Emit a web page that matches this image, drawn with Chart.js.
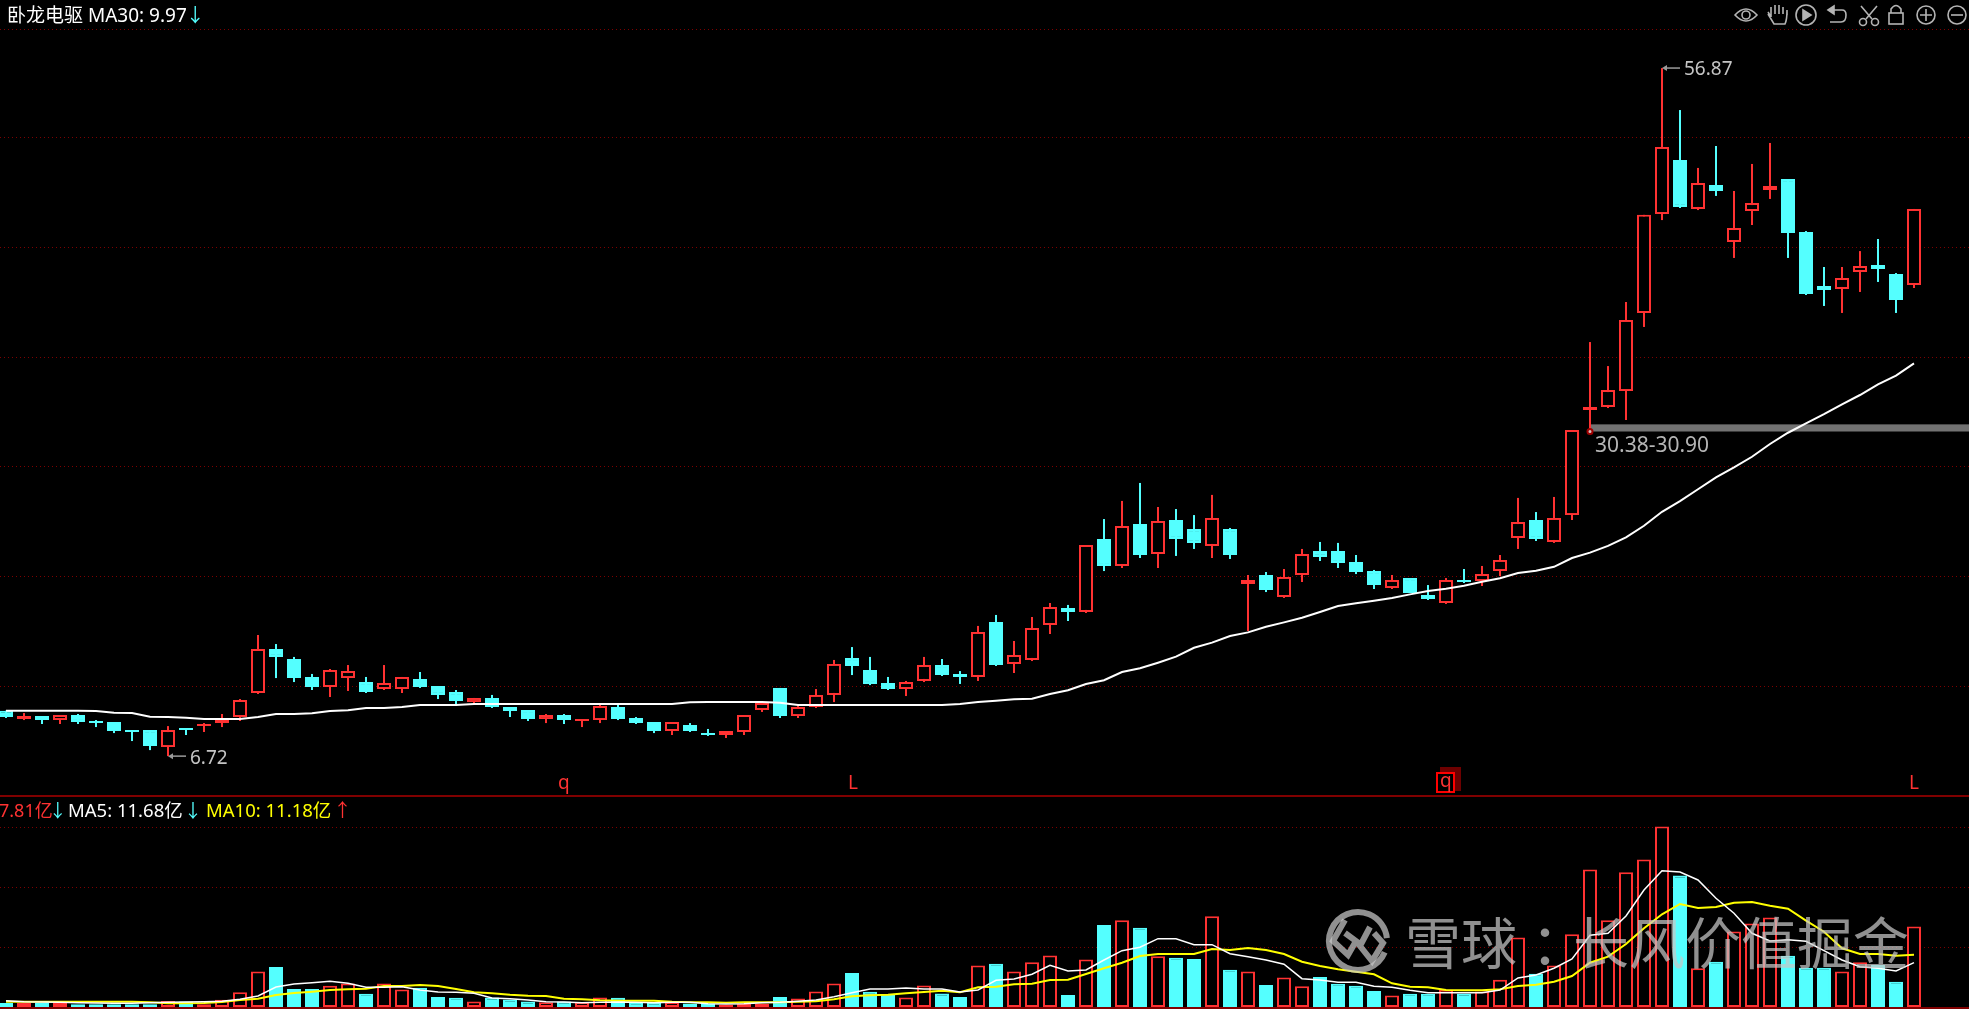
<!DOCTYPE html>
<html>
<head>
<meta charset="utf-8">
<title>卧龙电驱</title>
<script src="https://cdn.jsdelivr.net/npm/chart.js@4/dist/chart.umd.js"></script>
<style>
  html, body { margin: 0; padding: 0; background: #000; overflow: hidden; }
  #wrap { position: relative; width: 1969px; height: 1009px; }
  #toolbar { position: absolute; left: 1730px; top: 0; }
</style>
</head>
<body>
<div id="wrap">
  <canvas id="klineChart" width="1969" height="1009"></canvas>
  <svg id="toolbar" width="239" height="30" fill="none" stroke="#b4b4b4" stroke-width="1.6">
    <!-- eye -->
    <path d="M5 15 Q16 3 27 15 Q16 27 5 15Z"/><circle cx="16" cy="15" r="4"/>
    <!-- hand -->
    <path d="M41 17 L38 12 M41 17 V7 M45 14 V5 M49 14 V5 M53 14 V7 M57 15 V10 Q57 20 55 24 H44 L38 14"/>
    <!-- replay -->
    <circle cx="76" cy="15" r="10"/><path d="M73 10 L81 15 L73 20Z" fill="#b4b4b4"/>
    <!-- undo -->
    <path d="M99 10 H112 Q116 10 116 15 Q116 22 111 22 H100"/><path d="M98 10 L104 6 V14Z" fill="#b4b4b4"/>
    <!-- scissors -->
    <path d="M131 6 L142 19 M147 6 L136 19"/><circle cx="133" cy="22" r="3.5"/><circle cx="145" cy="22" r="3.5"/>
    <!-- lock -->
    <rect x="159" y="13" width="14" height="11"/><path d="M161 13 V9 Q166 2 171 9 V13"/>
    <!-- zoom in / out -->
    <circle cx="196" cy="15" r="9"/><path d="M190 15 H202 M196 9 V21"/>
    <circle cx="227" cy="15" r="9"/><path d="M221 15 H233"/>
  </svg>
</div>
<script>
// price pane
const candleOpen = [10.03,9.42,9.64,9.35,9.72,9.28,9.21,8.62,8.62,7.38,8.77,8.91,9.13,9.57,11.32,14.53,13.80,12.49,11.76,12.41,12.12,11.61,11.61,12.34,11.83,11.39,10.66,10.96,10.30,10.08,9.42,9.72,9.28,9.35,10.30,9.50,9.21,8.55,8.99,8.40,8.26,8.48,10.08,11.69,9.64,10.30,11.18,13.87,13.00,12.05,11.61,12.20,13.36,12.71,12.49,16.50,13.44,13.73,16.28,17.52,17.23,22.55,20.58,23.64,21.45,23.93,23.27,22.04,23.27,19.27,19.92,18.32,19.92,21.67,21.67,20.87,20.21,18.97,19.70,18.46,17.88,19.56,19.48,20.21,22.62,23.93,22.33,24.29,31.95,32.17,33.33,39.02,46.23,50.17,46.60,48.35,44.19,46.45,47.98,48.78,44.92,40.98,40.77,42.01,42.51,41.86,41.06];
const candleClose = [9.57,9.64,9.35,9.72,9.21,9.13,8.55,8.48,7.46,8.62,8.62,9.06,9.35,10.81,14.53,13.95,12.41,11.76,13.00,12.92,11.39,12.05,12.49,11.76,11.18,10.74,10.96,10.30,10.01,9.42,9.72,9.35,9.42,10.37,9.42,9.13,8.55,9.21,8.55,8.26,8.55,9.72,10.59,9.64,10.30,11.18,13.44,13.29,11.98,11.61,12.12,13.36,12.63,12.49,15.77,13.36,14.09,16.06,17.59,17.23,22.11,20.58,23.49,21.38,23.86,22.55,22.26,24.08,21.38,19.56,18.83,19.78,21.45,21.24,20.80,20.14,19.19,19.56,18.61,18.17,19.56,19.41,19.99,21.02,23.78,22.55,24.08,30.49,32.17,33.40,38.51,46.17,51.12,46.75,48.49,47.91,45.21,47.03,48.27,44.85,40.40,40.69,41.57,42.44,42.22,39.96,46.60];
const candleHigh = [10.03,9.86,9.64,9.72,9.79,9.35,9.21,8.62,8.62,8.91,8.77,9.13,9.79,10.88,15.55,14.89,13.95,12.71,13.07,13.36,12.49,13.36,12.49,12.85,11.83,11.54,10.96,11.18,10.30,10.08,9.79,9.79,9.42,10.45,10.45,9.57,9.21,9.21,9.13,8.70,8.55,9.72,10.59,11.69,10.37,11.61,13.73,14.67,13.95,12.49,12.20,13.95,13.80,12.92,16.21,17.01,15.11,16.86,17.88,17.74,22.11,24.00,25.32,26.63,24.88,24.73,24.29,25.76,23.35,19.92,20.14,20.36,21.82,22.33,22.26,21.38,20.29,19.92,19.70,19.19,19.70,20.36,20.58,21.38,25.54,24.51,25.61,30.49,36.90,35.15,39.82,46.17,56.87,53.81,49.59,51.19,47.91,49.88,51.41,48.78,44.99,42.37,42.37,43.53,44.41,41.93,46.60];
const candleLow = [9.50,9.35,9.06,9.06,9.06,8.84,8.40,7.82,7.16,6.72,8.26,8.48,8.84,9.28,11.25,12.41,12.12,11.54,11.03,11.47,11.32,11.54,11.32,11.69,10.88,10.52,10.52,10.23,9.57,9.28,9.13,9.06,8.84,9.13,9.35,9.06,8.40,8.26,8.48,8.19,8.04,8.26,9.94,9.50,9.50,10.23,10.66,12.63,11.90,11.54,11.10,12.12,12.56,11.98,12.20,13.29,12.78,13.65,15.62,16.57,17.15,20.21,20.43,21.16,20.43,21.31,21.82,21.16,21.09,15.84,18.68,18.25,19.41,20.94,20.43,19.99,18.90,18.90,18.61,18.10,17.81,19.34,19.12,19.85,21.82,22.40,22.26,23.93,30.38,32.09,31.22,38.00,45.79,46.67,46.52,47.55,43.03,45.43,47.33,43.03,40.33,39.53,39.02,40.55,41.28,39.02,40.84];
const ma30 = [10.03,10.03,10.03,10.03,10.03,10.01,9.88,9.86,9.59,9.57,9.52,9.42,9.42,9.42,9.57,9.79,9.79,9.84,10.01,10.06,10.23,10.23,10.30,10.45,10.45,10.45,10.52,10.52,10.52,10.52,10.52,10.52,10.52,10.52,10.52,10.52,10.52,10.52,10.64,10.66,10.66,10.66,10.66,10.61,10.45,10.45,10.45,10.45,10.45,10.45,10.45,10.45,10.45,10.52,10.66,10.76,10.86,10.90,11.25,11.52,11.98,12.25,12.85,13.12,13.53,13.97,14.62,14.99,15.48,15.74,16.15,16.47,16.81,17.23,17.66,17.86,18.05,18.25,18.51,18.76,18.92,19.14,19.43,19.68,20.07,20.23,20.52,21.16,21.55,22.04,22.67,23.51,24.53,25.31,26.17,27.04,27.77,28.54,29.47,30.29,30.98,31.65,32.36,33.04,33.82,34.45,35.35];
const priceGrid = [11.8,19.8,27.8,35.8,43.8,51.8,59.7];

// volume pane, in 亿
const volume = [1.0,1.0,1.0,1.0,0.7,0.7,0.7,0.7,0.7,1.5,1.4,0.7,1.8,3.7,8.9,10.0,4.5,4.5,5.3,5.9,3.3,5.9,4.4,4.8,2.5,2.3,1.4,2.4,1.9,1.4,1.2,1.4,1.2,2.4,2.3,1.2,1.1,1.2,0.9,0.9,0.5,0.8,0.8,2.5,2.1,3.9,5.9,8.5,3.8,3.0,2.4,5.4,3.4,2.5,10.4,10.8,8.9,11.2,12.9,3.0,11.9,20.5,21.7,19.8,12.7,12.3,12.0,22.7,9.3,8.9,5.5,7.4,5.2,7.5,5.8,5.3,4.0,2.9,3.3,3.3,4.3,3.4,3.9,6.8,17.4,8.3,10.4,18.2,34.4,21.7,33.7,36.9,45.1,32.9,9.7,11.3,18.9,20.9,22.4,12.8,9.8,9.8,8.9,11.2,10.5,6.3,20.1];
const volMa5 = [1.58,1.33,1.25,1.18,1.08,1.0,0.93,0.93,1.08,1.18,1.25,1.33,1.43,1.93,2.75,5.0,5.75,6.08,6.43,5.93,4.93,4.93,5.08,4.25,3.75,3.68,3.43,2.25,2.08,1.75,1.33,1.25,1.08,1.18,1.25,1.18,1.08,1.18,1.18,0.83,0.75,0.83,1.08,1.18,1.43,1.75,2.58,3.58,4.5,4.5,4.75,4.5,4.5,3.75,4.25,6.68,7.0,8.18,10.43,9.0,9.25,11.75,14.08,14.93,17.08,17.08,15.58,15.58,13.33,12.58,11.75,10.68,7.08,6.75,6.18,6.18,5.18,4.93,4.18,3.58,3.58,3.58,3.58,4.25,7.25,8.0,9.68,12.0,17.93,18.43,22.75,29.25,34.08,33.75,31.75,27.18,23.43,18.43,16.5,16.83,16.43,14.08,11.75,10.08,9.68,9.0,11.08];
const volMa10 = [1.33,1.33,1.33,1.33,1.33,1.33,1.33,1.33,1.18,0.93,0.93,1.0,1.25,1.75,2.08,3.0,3.5,3.83,4.25,4.43,4.58,5.25,5.25,5.5,5.25,4.5,3.68,3.43,3.08,2.83,2.75,2.08,1.93,1.68,1.58,1.58,1.58,1.33,1.18,1.18,1.08,1.18,1.18,1.18,1.33,1.43,1.93,2.68,2.93,3.08,3.43,3.75,4.08,3.68,4.93,5.08,5.68,5.83,6.75,6.83,8.25,9.68,11.08,12.75,13.25,13.25,13.25,14.5,14.25,14.75,14.25,13.25,11.33,10.25,9.43,8.83,8.18,5.93,5.08,4.93,4.25,4.18,4.18,4.43,5.25,5.58,6.33,7.75,11.08,12.58,15.75,19.68,23.18,25.75,24.75,25.0,26.08,26.25,25.33,24.58,21.58,18.83,14.68,13.25,13.25,12.83,13.08];
const volGrid = [15,30,45];

const RED = "#ff3232";
const CYAN = "#54ffff";
const GRID = "#7d0000";
const latin = '"Noto Sans", "Noto Sans CJK SC", sans-serif';

const isUp = candleOpen.map((o, i) => candleClose[i] >= o);
const upOrDown = (up, down) => isUp.map((u) => (u ? up : down));
const series = (values) => values.map((v, i) => ({ x: i, y: v }));

function bodyDataset(data, yAxisID, order) {
  return {
    type: "bar",
    data: data,
    yAxisID: yAxisID,
    order: order,
    grouped: false,
    barThickness: 14,
    borderWidth: 2,
    borderSkipped: false,
    inflateAmount: 0,
    borderColor: upOrDown(RED, CYAN),
    backgroundColor: upOrDown("#000", CYAN),
  };
}

function lineDataset(values, yAxisID, color, width) {
  return {
    type: "line",
    data: series(values),
    yAxisID: yAxisID,
    order: 1,
    borderColor: color,
    borderWidth: width,
    pointRadius: 0,
    tension: 0,
  };
}

function gridAxis(min, max, values) {
  return {
    position: "left",
    min: min,
    max: max,
    afterBuildTicks: (scale) => {
      scale.ticks = values.map((v) => ({ value: v }));
    },
    afterFit: (scale) => {
      scale.width = 0;
    },
    ticks: { display: false },
    border: { display: false, dash: [1, 3] },
    grid: { color: GRID, lineWidth: 1, drawTicks: false },
  };
}

// writes a row of coloured pieces: [text, colour, optional x shift]
function textRow(ctx, x, y, font, pieces) {
  ctx.font = font;
  ctx.textBaseline = "middle";
  ctx.textAlign = "left";
  pieces.forEach((p) => {
    x += p[2] || 0;
    ctx.fillStyle = p[1];
    ctx.fillText(p[0], x, y);
    x += ctx.measureText(p[0]).width;
  });
}

function priceNote(ctx, chart, index, price, text) {
  const px = chart.scales.x.getPixelForValue(index);
  const py = chart.scales.y.getPixelForValue(price);
  ctx.strokeStyle = "#9a9a9a";
  ctx.fillStyle = "#9a9a9a";
  ctx.lineWidth = 1.5;
  ctx.beginPath();
  ctx.moveTo(px + 18, py);
  ctx.lineTo(px + 2, py);
  ctx.stroke();
  ctx.beginPath();
  ctx.moveTo(px, py);
  ctx.lineTo(px + 5, py - 3);
  ctx.lineTo(px + 5, py + 3);
  ctx.fill();
  textRow(ctx, px + 22, py + 2, "19px " + latin, [[text, "#c4c4c4"]]);
}

const overlay = {
  id: "overlay",
  beforeDatasetsDraw(chart) {
    const ctx = chart.ctx;
    const x = chart.scales.x;
    const y = chart.scales.y;
    // support band 30.38-30.90
    const top = y.getPixelForValue(30.9);
    ctx.fillStyle = "#727272";
    ctx.fillRect(x.getPixelForValue(88), top, 1969, y.getPixelForValue(30.38) - top);
  },
  afterDraw(chart) {
    const ctx = chart.ctx;
    ctx.save();

    // pane separator and bottom line
    ctx.fillStyle = "#800000";
    ctx.fillRect(0, 795, 1969, 2);
    ctx.fillRect(0, 1007, 1969, 2);

    textRow(ctx, 7, 17, "19px " + latin, [["卧龙电驱 MA30: 9.97", "#ffffff"], ["↓", CYAN, -1]]);
    textRow(ctx, -1, 812, "18px " + latin, [["7.81亿", RED], ["↓", CYAN, -4]]);
    textRow(ctx, 68, 812, "18.5px " + latin, [["MA5: 11.68亿", "#ffffff"], ["↓", CYAN, 1]]);
    textRow(ctx, 206, 812, "18.5px " + latin, [["MA10: 11.18亿", "#ffff00"], ["↑", RED, 2]]);

    priceNote(ctx, chart, 92, 56.87, "56.87");
    priceNote(ctx, chart, 9, 6.72, "6.72");
    textRow(ctx, 1595, 446, "21px " + latin, [["30.38-30.90", "#b4b4b4"]]);

    // event marks above the separator
    ctx.fillStyle = "#6e0000";
    ctx.fillRect(1440, 767, 21, 24);
    ctx.fillStyle = "#000";
    ctx.fillRect(1436, 772, 19, 21);
    ctx.strokeStyle = "#ff0000";
    ctx.lineWidth = 2;
    ctx.strokeRect(1437, 773, 17, 19);
    textRow(ctx, 558, 784, "19px " + latin, [["q", RED]]);
    textRow(ctx, 1440, 782, "19px " + latin, [["q", RED]]);
    textRow(ctx, 848, 784, "19px " + latin, [["L", RED]]);
    textRow(ctx, 1909, 784, "19px " + latin, [["L", RED]]);

    // watermark
    ctx.globalAlpha = 0.72;
    ctx.strokeStyle = "#c8c8c8";
    ctx.lineWidth = 6;
    ctx.beginPath();
    ctx.arc(1358, 941, 29, 0.4, Math.PI * 2 - 0.1);
    ctx.stroke();
    ctx.beginPath();
    ctx.moveTo(1345, 920);
    ctx.lineTo(1333, 941);
    ctx.lineTo(1348, 955);
    ctx.lineTo(1356, 941);
    ctx.lineTo(1345, 933);
    ctx.moveTo(1370, 927);
    ctx.lineTo(1360, 946);
    ctx.lineTo(1372, 961);
    ctx.lineTo(1383, 943);
    ctx.lineTo(1374, 933);
    ctx.stroke();
    textRow(ctx, 1405, 943, '56px "Noto Sans CJK SC"', [
      ["雪球", "#c8c8c8"],
      ["：", "#c8c8c8", 14],
      ["长风价值掘金", "#c8c8c8", -14],
    ]);
    ctx.restore();
  },
};

new Chart(document.getElementById("klineChart"), {
  data: {
    datasets: [
      lineDataset(ma30, "y", "#ffffff", 2),
      lineDataset(volMa5, "yVol", "#ffffff", 1.5),
      lineDataset(volMa10, "yVol", "#ffff00", 2),
      // lowest point of the band, small ring
      {
        type: "line",
        data: [{ x: 88, y: 30.38 }],
        yAxisID: "y",
        order: 0,
        pointRadius: 2.5,
        pointBackgroundColor: "#d8c0c0",
        pointBorderColor: "#a00000",
        pointBorderWidth: 2,
      },
      bodyDataset(candleOpen.map((o, i) => ({ x: i, y: [o, candleClose[i]] })), "y", 2),
      {
        type: "bar",
        data: candleLow.map((l, i) => ({ x: i, y: [l, candleHigh[i]] })),
        yAxisID: "y",
        order: 3,
        grouped: false,
        barThickness: 2,
        borderWidth: 0,
        inflateAmount: 0,
        backgroundColor: upOrDown(RED, CYAN),
      },
      bodyDataset(series(volume), "yVol", 2),
    ],
  },
  options: {
    responsive: false,
    animation: false,
    layout: { padding: 0, autoPadding: false },
    events: [],
    plugins: { legend: { display: false }, tooltip: { enabled: false } },
    scales: {
      // one candle every 18px, first centre 6px from the left edge
      x: { type: "linear", display: false, offset: false, min: -0.3333, max: 109.0556 },
      y: gridAxis(-11.71, 61.83, priceGrid),
      yVol: gridAxis(-0.5, 251.75, volGrid),
    },
  },
  plugins: [overlay],
});
</script>
</body>
</html>
